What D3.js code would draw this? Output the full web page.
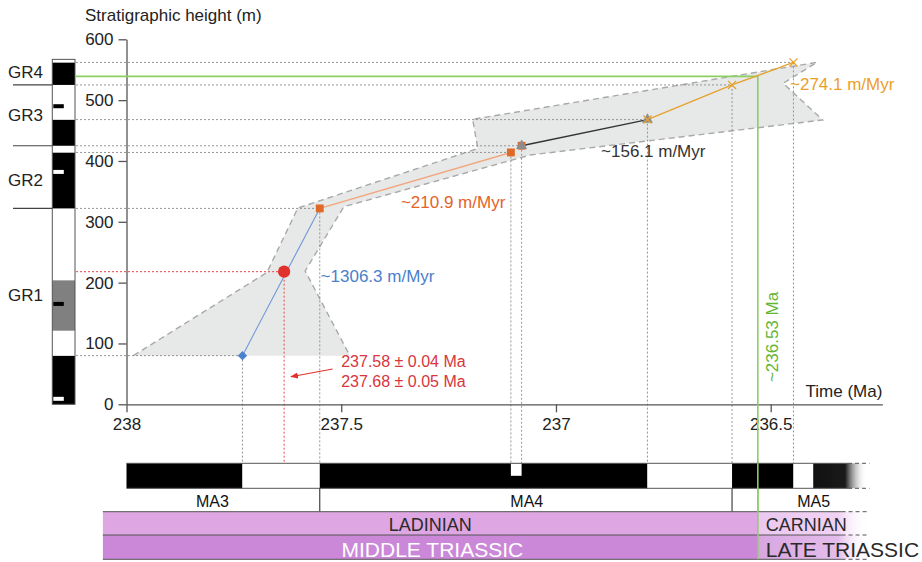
<!DOCTYPE html>
<html>
<head>
<meta charset="utf-8">
<script src="https://cdn.jsdelivr.net/npm/d3@7"></script>
<style>
  html, body { margin: 0; padding: 0; background: #fff; }
  svg { display: block; font-family: "Liberation Sans", Arial, Helvetica, sans-serif; }
</style>
</head>
<body>
<svg id="chart" width="922" height="562"></svg>
<script>
// ---------------- data ----------------
const ageTicks = [238, 237.5, 237, 236.5];
const heightTicks = [0, 100, 200, 300, 400, 500, 600];

// Tie points: age (Ma) and stratigraphic height (m)
const diamondPoints  = [{ age: 237.73,  height: 80 }];
const circlePoints   = [{ age: 237.633, height: 218 }];
const squarePoints   = [{ age: 237.55,  height: 322 }, { age: 237.105, height: 414 }, { age: 237.08, height: 425 }];
const trianglePoints = [{ age: 237.08,  height: 425 }, { age: 236.787, height: 468 }];
const crossPoints    = [{ age: 236.787, height: 468 }, { age: 236.59, height: 525 }, { age: 236.447, height: 562 }];

// Sedimentation-rate segments and their labels
const rateLabels = ["~1306.3 m/Myr", "~210.9 m/Myr", "~156.1 m/Myr", "~274.1 m/Myr"];

// Uncertainty envelope around the age model (age, height)
const envelopeAge    = [237.984, 237.673, 237.601, 237.182, 237.194, 236.392, 236.471, 236.379, 237.06, 237.494, 237.584, 237.48];
const envelopeHeight = [80,      216.7,   322.7,   420.5,   468.5,   562.2,   527.7,   467.4,   409.8,  324.8,   219.1,   80];

// Lithological column: bed boundaries (m) and fill codes (B = black, W = white, G = grey)
const bedBase = [0,   80,  121, 204, 322, 414, 425, 468, 525, 562];
const bedTop  = [80,  121, 204, 322, 414, 425, 468, 525, 562, 567];
const bedCode = ["B", "W", "G", "W", "B", "W", "B", "W", "B", "W"];
// Thin interbeds (m) and their codes
const thinBedHeight = [490, 382, 165, 9];
const thinBedCode   = ["B", "W", "B", "W"];

// Grey-rock units
const unitNames   = ["GR4", "GR3", "GR2", "GR1"];
const unitLabelAt = [547, 475.5, 368.5, 179.5];
const unitBounds  = [525, 425, 322];

// Magnetic polarity: zone boundaries (Ma) and polarity (N = black, R = white)
const magBounds   = [238, 237.73, 237.55, 236.787, 236.59, 236.447, 236.401, 236.277];
const magPolarity = ["N", "R", "N", "R", "N", "R", "N"];
const magNotch    = [237.105, 237.08];

// Magnetozones
const zoneNames   = ["MA3", "MA4", "MA5"];
const zoneBounds  = [238, 237.55, 236.59, 236.277];
const zoneLabelAt = [237.80, 237.068, 236.40];

// Chronostratigraphy
const stageNames = ["LADINIAN", "CARNIAN"];
const epochNames = ["MIDDLE TRIASSIC", "LATE TRIASSIC"];
const chronoStart = 238.055;
const chronoEnd   = 236.27;

// Ladinian/Carnian boundary estimate
const boundaryAge = 236.53;
const boundaryHeight = 539;
const boundaryLabel = "~236.53 Ma";

// Radiometric ages
const radiometricLabels = ["237.58 \u00B1 0.04 Ma", "237.68 \u00B1 0.05 Ma"];

// ---------------- layout ----------------
const svg = d3.select("#chart");
const x = d3.scaleLinear().domain([238, 236.5]).range([126.5, 770.7]);
const y = d3.scaleLinear().domain([0, 600]).range([404.3, 39.3]);
const axisEndAge = 236.24;

const colX0 = 52.3, colX1 = 75;
const magTop = 463.3, magBot = 488.3, zoneBot = 511.7, stageBot = 535, epochBot = 559.3;

const C = {
  axis: "#555", text: "#222", guide: "#8a8a8a",
  blue: "#4a80cc", blueLine: "#6f97d8",
  red: "#e0312d", redText: "#d9353d",
  orange: "#df6a28", orangeLine: "#f2a47c", orangeText: "#e4632a",
  dark: "#333", tri: "#8c8c8c",
  gold: "#e5a22d", goldText: "#eb9f2a",
  green: "#8ccf63", greenText: "#64b532",
  env: "#e7e8e8", envStroke: "#a9a9a9",
  ladinian: "#dea6e2", middle: "#cb88d8"
};

const defs = svg.append("defs");
function fade(id, stops) {
  const g = defs.append("linearGradient").attr("id", id).attr("x1", 0).attr("x2", 1).attr("y1", 0).attr("y2", 0);
  stops.forEach(s => g.append("stop").attr("offset", s[0]).attr("stop-color", s[1]).attr("stop-opacity", s[2] == null ? 1 : s[2]));
}
fade("magFade", [[0, "#111"], [0.6, "#1a1a1a"], [1, "#fff", 0]]);
fade("carnFade", [[0, "#ecc8f0"], [0.72, "#f0d2f3"], [1, "#fff", 0]]);
fade("lateFade", [[0, "#d8a6e2"], [0.72, "#e4bdeb"], [1, "#fff", 0]]);

// ---------------- envelope ----------------
const envPts = envelopeAge.map((a, i) => [x(a), y(envelopeHeight[i])]);
svg.append("path")
  .attr("d", d3.line()(envPts) + "Z")
  .attr("fill", C.env).attr("stroke", "none");
svg.append("path")
  .attr("d", d3.line()(envPts))
  .attr("fill", "none").attr("stroke", C.envStroke)
  .attr("stroke-width", 1.4).attr("stroke-dasharray", "6,4");

// ---------------- guide lines ----------------
const guidePts = [...diamondPoints, ...squarePoints, ...trianglePoints.slice(1), ...crossPoints.slice(1)];
const guides = svg.append("g").attr("stroke", C.guide).attr("stroke-width", 0.9).attr("stroke-dasharray", "2,2").attr("fill", "none");
guidePts.forEach(p => {
  guides.append("line").attr("x1", colX1 + 1).attr("x2", x(p.age)).attr("y1", y(p.height)).attr("y2", y(p.height));
  guides.append("line").attr("x1", x(p.age)).attr("x2", x(p.age)).attr("y1", y(p.height)).attr("y2", magTop);
});
circlePoints.forEach(p => {
  const g = svg.append("g").attr("stroke", "#e8474a").attr("stroke-width", 1).attr("stroke-dasharray", "2,2");
  g.append("line").attr("x1", colX1 + 1).attr("x2", x(p.age)).attr("y1", y(p.height)).attr("y2", y(p.height));
  g.append("line").attr("x1", x(p.age)).attr("x2", x(p.age)).attr("y1", y(p.height)).attr("y2", magTop);
});

// ---------------- axes ----------------
const yAxis = svg.append("g").attr("transform", `translate(${x(238)},0)`)
  .call(d3.axisLeft(y).tickValues(heightTicks).tickSize(8).tickSizeOuter(0).tickPadding(5));
const xScaleAxis = x.copy().domain([238, axisEndAge]).range([x(238), x(axisEndAge)]);
const xAxis = svg.append("g").attr("transform", `translate(0,${y(0)})`)
  .call(d3.axisBottom(xScaleAxis).tickValues(ageTicks).tickFormat(d => String(d)).tickSize(8).tickSizeOuter(0).tickPadding(6));
[yAxis, xAxis].forEach(a => {
  a.selectAll("path, line").attr("stroke", C.axis).attr("stroke-width", 1.3);
  a.selectAll("text").attr("fill", C.text).style("font-size", "17px").style("font-family", "inherit");
});
svg.append("text").attr("x", 85).attr("y", 20.7).attr("fill", C.text)
  .style("font-size", "17px").text("Stratigraphic height (m)");
svg.append("text").attr("x", x(axisEndAge)).attr("y", 397).attr("text-anchor", "end").attr("fill", C.text)
  .style("font-size", "17px").text("Time (Ma)");

// ---------------- lithological column ----------------
const codeFill = { B: "#000", W: "#fff", G: "#808080" };
const col = svg.append("g");
bedBase.forEach((b, i) => {
  col.append("rect").attr("x", colX0).attr("width", colX1 - colX0)
    .attr("y", y(bedTop[i])).attr("height", y(b) - y(bedTop[i]))
    .attr("fill", codeFill[bedCode[i]]);
});
thinBedHeight.forEach((h, i) => {
  col.append("rect").attr("x", colX0 + 1).attr("width", 10.5)
    .attr("y", y(h) - 2).attr("height", 4).attr("fill", codeFill[thinBedCode[i]]);
});
col.append("rect").attr("x", colX0).attr("width", colX1 - colX0)
  .attr("y", y(d3.max(bedTop))).attr("height", y(0) - y(d3.max(bedTop)))
  .attr("fill", "none").attr("stroke", "#555").attr("stroke-width", 1);
unitBounds.forEach(h => {
  svg.append("line").attr("x1", 13).attr("x2", colX0).attr("y1", y(h)).attr("y2", y(h))
    .attr("stroke", "#444").attr("stroke-width", 1.2);
});
unitNames.forEach((n, i) => {
  svg.append("text").attr("x", 8).attr("y", y(unitLabelAt[i])).attr("dy", "0.36em")
    .attr("fill", C.text).style("font-size", "17px").text(n);
});

// ---------------- boundary marker (green) ----------------
svg.append("path")
  .attr("d", d3.line()([[colX1 + 1, y(boundaryHeight)], [x(boundaryAge), y(boundaryHeight)], [x(boundaryAge), epochBot]]))
  .attr("fill", "none").attr("stroke", C.green).attr("stroke-width", 1.6);

// ---------------- age-model segments ----------------
const line = d3.line().x(d => x(d.age)).y(d => y(d.height));
svg.append("path").attr("d", line([diamondPoints[0], squarePoints[0]])).attr("fill", "none").attr("stroke", C.blueLine).attr("stroke-width", 1.1);
svg.append("path").attr("d", line([squarePoints[0], squarePoints[1]])).attr("fill", "none").attr("stroke", C.orangeLine).attr("stroke-width", 1.3);
svg.append("path").attr("d", line(trianglePoints)).attr("fill", "none").attr("stroke", C.dark).attr("stroke-width", 1.3);
svg.append("path").attr("d", line(crossPoints)).attr("fill", "none").attr("stroke", C.gold).attr("stroke-width", 1.3);

// ---------------- markers ----------------
function symbols(data, type, size, fill, stroke, rot) {
  svg.append("g").selectAll("path").data(data).join("path")
    .attr("transform", d => `translate(${x(d.age)},${y(d.height)}) rotate(${rot || 0})`)
    .attr("d", d3.symbol().type(type).size(size))
    .attr("fill", fill).attr("stroke", stroke || "none").attr("stroke-width", 1.3);
}
symbols(diamondPoints, d3.symbolSquare, 44, C.blue, null, 45);
symbols(circlePoints, d3.symbolCircle, 118, C.red);
symbols(squarePoints, d3.symbolSquare, 62, C.orange);
symbols(trianglePoints, d3.symbolTriangle, 52, C.tri);
symbols(crossPoints, d3.symbolX, 44, "none", C.gold);

// ---------------- rate labels ----------------
const rateText = svg.append("g").style("font-size", "17px");
rateText.append("text").attr("x", x(237.548)).attr("y", y(201.7)).attr("fill", C.blue).text(rateLabels[0]);
rateText.append("text").attr("x", x(237.361)).attr("y", y(322.2)).attr("fill", C.orangeText).text(rateLabels[1]);
rateText.append("text").attr("x", x(236.895)).attr("y", y(407)).attr("fill", C.dark).text(rateLabels[2]);
rateText.append("text").attr("x", x(236.455)).attr("y", y(516.7)).attr("fill", C.goldText).text(rateLabels[3]);

// radiometric ages with arrow
radiometricLabels.forEach((t, i) => {
  svg.append("text").attr("x", x(237.5)).attr("y", y(62) + i * 20).attr("fill", C.redText)
    .style("font-size", "16px").text(t);
});
defs.append("marker").attr("id", "arrowHead").attr("viewBox", "0 0 10 10")
  .attr("refX", 9).attr("refY", 5).attr("markerWidth", 7).attr("markerHeight", 7).attr("orient", "auto")
  .append("path").attr("d", "M0,1 L10,5 L0,9 Z").attr("fill", C.red);
svg.append("line").attr("x1", x(237.52)).attr("y1", y(57.9)).attr("x2", x(237.617)).attr("y2", y(45.4))
  .attr("stroke", C.red).attr("stroke-width", 1.1).attr("marker-end", "url(#arrowHead)");

// boundary label
svg.append("text")
  .attr("transform", `translate(${x(boundaryAge) + 20},${y(36.5)}) rotate(-90)`)
  .attr("fill", C.greenText).style("font-size", "17px").text(boundaryLabel);

// ---------------- magnetostratigraphy bar ----------------
const mag = svg.append("g");
magPolarity.forEach((p, i) => {
  const a0 = magBounds[i], a1 = magBounds[i + 1];
  const last = i === magPolarity.length - 1;
  mag.append("rect").attr("x", x(a0)).attr("width", x(a1) - x(a0))
    .attr("y", magTop).attr("height", magBot - magTop)
    .attr("fill", last ? "url(#magFade)" : (p === "N" ? "#000" : "#fff"));
});
mag.append("rect").attr("x", x(magNotch[0])).attr("width", x(magNotch[1]) - x(magNotch[0]))
  .attr("y", magTop).attr("height", 12.5).attr("fill", "#fff");
const solidEnd = 236.32;
[magTop, magBot].forEach(yy => {
  mag.append("line").attr("x1", x(238)).attr("x2", x(solidEnd)).attr("y1", yy).attr("y2", yy)
    .attr("stroke", "#555").attr("stroke-width", 1);
  mag.append("line").attr("x1", x(solidEnd)).attr("x2", x(236.27)).attr("y1", yy).attr("y2", yy)
    .attr("stroke", "#555").attr("stroke-width", 1).attr("stroke-dasharray", "4,3");
});

// magnetozones
zoneBounds.slice(1, -1).forEach(a => {
  svg.append("line").attr("x1", x(a)).attr("x2", x(a)).attr("y1", magBot).attr("y2", zoneBot)
    .attr("stroke", "#333").attr("stroke-width", 1.1);
});
zoneNames.forEach((n, i) => {
  svg.append("text").attr("x", x(zoneLabelAt[i])).attr("y", 506.5).attr("text-anchor", "middle")
    .attr("fill", "#111").style("font-size", "16px").text(n);
});

// ---------------- stages and epochs ----------------
const chrono = svg.append("g");
chrono.append("rect").attr("x", x(chronoStart)).attr("width", x(boundaryAge) - x(chronoStart))
  .attr("y", zoneBot).attr("height", stageBot - zoneBot).attr("fill", C.ladinian);
chrono.append("rect").attr("x", x(chronoStart)).attr("width", x(boundaryAge) - x(chronoStart))
  .attr("y", stageBot).attr("height", epochBot - stageBot).attr("fill", C.middle);
chrono.append("rect").attr("x", x(boundaryAge)).attr("width", x(chronoEnd) - x(boundaryAge))
  .attr("y", zoneBot).attr("height", stageBot - zoneBot).attr("fill", "url(#carnFade)");
chrono.append("rect").attr("x", x(boundaryAge)).attr("width", x(chronoEnd) - x(boundaryAge))
  .attr("y", stageBot).attr("height", epochBot - stageBot).attr("fill", "url(#lateFade)");
const chronoSolidEnd = 236.335;
[zoneBot, stageBot, epochBot].forEach(yy => {
  chrono.append("line").attr("x1", x(chronoStart)).attr("x2", x(chronoSolidEnd)).attr("y1", yy).attr("y2", yy)
    .attr("stroke", "#555").attr("stroke-width", 1);
  chrono.append("line").attr("x1", x(chronoSolidEnd)).attr("x2", x(chronoEnd)).attr("y1", yy).attr("y2", yy)
    .attr("stroke", "#555").attr("stroke-width", 1).attr("stroke-dasharray", "4,3");
});
const midX = (x(chronoStart) + x(boundaryAge)) / 2;
chrono.append("text").attr("x", midX).attr("y", 530.7).attr("text-anchor", "middle")
  .attr("fill", "#2a2a2a").style("font-size", "18px").text(stageNames[0]);
chrono.append("text").attr("x", midX + 2).attr("y", 557).attr("text-anchor", "middle")
  .attr("fill", "#fff").style("font-size", "21px").text(epochNames[0]);
chrono.append("text").attr("x", x(boundaryAge) + 8).attr("y", 530.7)
  .attr("fill", "#2a2a2a").style("font-size", "18px").text(stageNames[1]);
chrono.append("text").attr("x", x(boundaryAge) + 8).attr("y", 557)
  .attr("fill", "#2a2a2a").style("font-size", "21px").text(epochNames[1]);

// green boundary drawn over the bars
svg.append("line").attr("x1", x(boundaryAge)).attr("x2", x(boundaryAge)).attr("y1", magTop).attr("y2", epochBot)
  .attr("stroke", C.green).attr("stroke-width", 1.6);
</script>
</body>
</html>
